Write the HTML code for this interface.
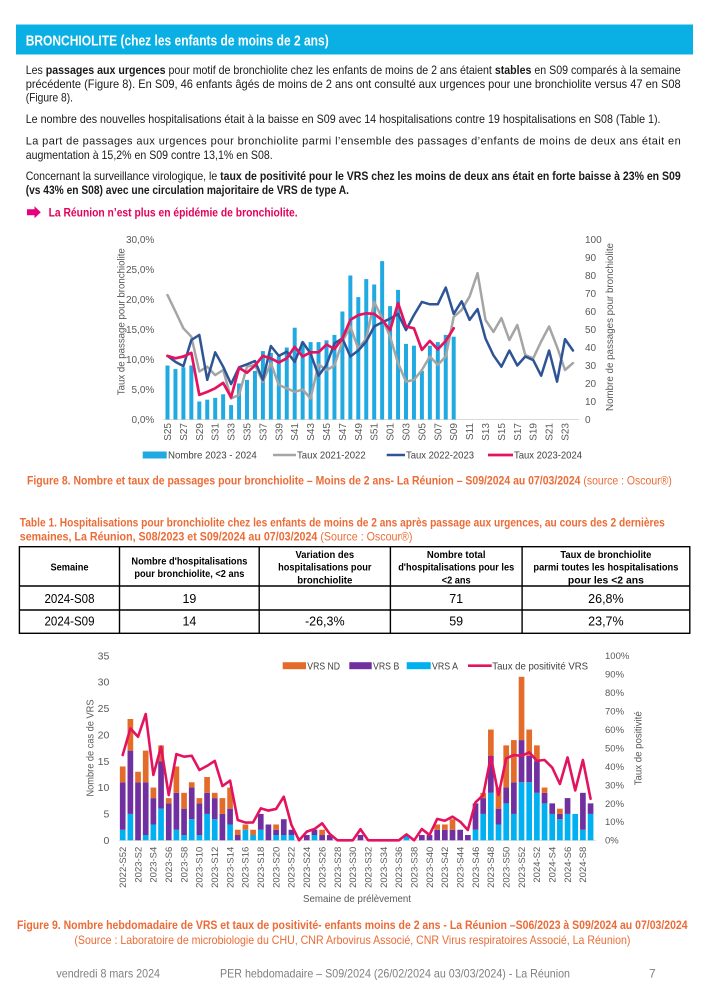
<!DOCTYPE html>
<html><head><meta charset="utf-8"><style>
html,body{margin:0;padding:0;background:#fff;}
svg{display:block;}
</style></head><body>
<svg width="707" height="1000" viewBox="0 0 707 1000" font-family="'Liberation Sans', sans-serif">
<rect x="0" y="0" width="707" height="1000" fill="#fff"/>
<!-- Header -->
<rect x="16" y="24.5" width="677" height="30" fill="#0AB0E4"/>
<text x="25.7" y="45.3" font-size="15" font-weight="bold" fill="#fff" textLength="303" lengthAdjust="spacingAndGlyphs">BRONCHIOLITE (chez les enfants de moins de 2 ans)</text>

<!-- Paragraphs -->
<g font-size="12" fill="#1a1a1a">
<text x="25.7" y="74" textLength="655" lengthAdjust="spacingAndGlyphs">Les <tspan font-weight="bold">passages aux urgences</tspan> pour motif de bronchiolite chez les enfants de moins de 2 ans étaient <tspan font-weight="bold">stables</tspan> en S09 comparés à la semaine</text>
<text x="25.7" y="88" textLength="655" lengthAdjust="spacingAndGlyphs">précédente (Figure 8). En S09, 46 enfants âgés de moins de 2 ans ont consulté aux urgences pour une bronchiolite versus 47 en S08</text>
<text x="25.7" y="101.3" textLength="47.3" lengthAdjust="spacingAndGlyphs">(Figure 8).</text>
<text x="25.7" y="123" textLength="634.8" lengthAdjust="spacingAndGlyphs">Le nombre des nouvelles hospitalisations était à la baisse en S09 avec 14 hospitalisations contre 19 hospitalisations en S08 (Table 1).</text>
<text x="25.7" y="144.7" font-size="11" textLength="655" lengthAdjust="spacing">La part de passages aux urgences pour bronchiolite parmi l’ensemble des passages d’enfants de moins de deux ans était en</text>
<text x="25.7" y="159" textLength="247" lengthAdjust="spacingAndGlyphs">augmentation à 15,2% en S09 contre 13,1% en S08.</text>
<text x="25.7" y="180" textLength="655" lengthAdjust="spacingAndGlyphs">Concernant la surveillance virologique, le <tspan font-weight="bold">taux de positivité pour le VRS chez les moins de deux ans était en forte baisse à 23% en S09</tspan></text>
<text x="25.7" y="194" font-weight="bold" textLength="323.3" lengthAdjust="spacingAndGlyphs">(vs 43% en S08) avec une circulation majoritaire de VRS de type A.</text>
</g>
<polygon points="27,209.3 34.5,209.3 34.5,206.3 40.8,212.3 34.5,218.3 34.5,215.3 27,215.3" fill="#E6007E"/>
<text x="48.6" y="216.3" font-size="12" font-weight="bold" fill="#E5005B" textLength="249" lengthAdjust="spacingAndGlyphs">La Réunion n’est plus en épidémie de bronchiolite.</text>

<!-- ===== Chart 1 ===== -->
<line x1="163.5" y1="419.5" x2="579" y2="419.5" stroke="#D9D9D9" stroke-width="1"/>
<g transform="translate(167.5,419.5) scale(7.95,-1.8)" fill="#21A9E1">
<rect x="-0.25" y="0" width="0.5" height="30"/><rect x="0.75" y="0" width="0.5" height="28"/><rect x="1.75" y="0" width="0.5" height="29"/><rect x="2.75" y="0" width="0.5" height="30"/><rect x="3.75" y="0" width="0.5" height="10"/><rect x="4.75" y="0" width="0.5" height="11"/><rect x="5.75" y="0" width="0.5" height="12"/><rect x="6.75" y="0" width="0.5" height="14"/><rect x="7.75" y="0" width="0.5" height="8"/><rect x="8.75" y="0" width="0.5" height="20"/><rect x="9.75" y="0" width="0.5" height="22"/><rect x="10.75" y="0" width="0.5" height="27"/><rect x="11.75" y="0" width="0.5" height="38"/><rect x="12.75" y="0" width="0.5" height="37"/><rect x="13.75" y="0" width="0.5" height="35"/><rect x="14.75" y="0" width="0.5" height="40"/><rect x="15.75" y="0" width="0.5" height="51"/><rect x="16.75" y="0" width="0.5" height="43"/><rect x="17.75" y="0" width="0.5" height="43"/><rect x="18.75" y="0" width="0.5" height="43"/><rect x="19.75" y="0" width="0.5" height="44"/><rect x="20.75" y="0" width="0.5" height="47"/><rect x="21.75" y="0" width="0.5" height="60"/><rect x="22.75" y="0" width="0.5" height="80"/><rect x="23.75" y="0" width="0.5" height="68"/><rect x="24.75" y="0" width="0.5" height="78"/><rect x="25.75" y="0" width="0.5" height="75"/><rect x="26.75" y="0" width="0.5" height="88"/><rect x="27.75" y="0" width="0.5" height="63"/><rect x="28.75" y="0" width="0.5" height="72"/><rect x="29.75" y="0" width="0.5" height="42"/><rect x="30.75" y="0" width="0.5" height="41"/><rect x="31.75" y="0" width="0.5" height="27"/><rect x="32.75" y="0" width="0.5" height="41"/><rect x="33.75" y="0" width="0.5" height="43"/><rect x="34.75" y="0" width="0.5" height="47"/><rect x="35.75" y="0" width="0.5" height="46"/>
</g>
<g transform="translate(167.5,419.5) scale(7.95,-6)" fill="none" stroke-linejoin="round" stroke-linecap="round">
<polyline vector-effect="non-scaling-stroke" stroke="#A5A5A5" stroke-width="2.5" points="0,20.75 1,18 2,15.2 3,13.8 4,8 5,8.8 6,7.4 7,8.25 8,3.5 9,4.1 10,8.8 11,9.1 12,6.3 13,9.4 14,5.75 15,5.2 16,4.6 17,5 18,3.5 19,9.2 20,8.2 21,9 22,13 23,15.5 24,11.8 25,13.5 26,19.6 27,16.9 28,13.8 29,9.4 30,6.3 31,6.6 32,8.25 33,10.5 34,9.1 35,10.5 36,17.1 37,18.25 38,20.5 39,24.4 40,16.6 41,14.6 42,16.9 43,13.25 44,15.75 45,10.75 46,10.2 47,13 48,15.5 49,12.1 50,8.25 51,9.4"/>
<polyline vector-effect="non-scaling-stroke" stroke="#2F5496" stroke-width="2.5" points="0,10.6 1,9.6 2,8.9 3,13.25 4,14.1 5,6.6 6,11.2 7,8.8 8,5.9 9,8.7 10,9.2 11,9.75 12,6.6 13,12.25 14,10.6 15,11.3 16,9.6 17,12.9 18,11 19,7.3 20,9.1 21,12.7 22,13.5 23,10.5 24,11.5 25,13 26,15.5 27,16.2 28,16.8 29,17.6 30,14.9 31,17.4 32,19.6 33,19.2 34,19.2 35,22 36,17.6 37,19.7 38,16.6 39,18.4 40,13.5 41,10.7 42,8.8 43,11.5 44,9 45,10.5 46,9.9 47,7.3 48,11.5 49,6.3 50,13.4 51,11.5"/>
<polyline vector-effect="non-scaling-stroke" stroke="#E4135F" stroke-width="2.7" points="0,10.6 1,10.2 2,10.5 3,11.1 4,4.1 5,4.6 6,5.2 7,6.1 8,3.7 9,8.6 10,7.8 11,9 12,10.6 13,10.2 14,9.5 15,10.2 16,12.1 17,10.5 18,11.2 19,11.2 20,12.5 21,11.75 22,13.5 23,16.6 24,17.4 25,17.7 26,17.6 27,16.6 28,14.9 29,19.4 30,15.5 31,15.2 32,11.6 33,13.1 34,11.7 35,13.1 36,15.2"/>
</g>
<g font-size="10" fill="#595959" text-anchor="end">
<text x="154.3" y="423">0,0%</text><text x="154.3" y="393">5,0%</text><text x="154.3" y="363">10,0%</text><text x="154.3" y="333">15,0%</text><text x="154.3" y="303">20,0%</text><text x="154.3" y="273">25,0%</text><text x="154.3" y="243">30,0%</text>
</g>
<g font-size="10" fill="#595959">
<text x="585" y="423">0</text><text x="585" y="405">10</text><text x="585" y="387">20</text><text x="585" y="369">30</text><text x="585" y="351">40</text><text x="585" y="333">50</text><text x="585" y="315">60</text><text x="585" y="297">70</text><text x="585" y="279">80</text><text x="585" y="261">90</text><text x="585" y="243">100</text>
</g>
<text transform="translate(124.4,321.7) rotate(-90)" text-anchor="middle" font-size="10.5" fill="#595959" textLength="147" lengthAdjust="spacingAndGlyphs">Taux de passage pour bronchiolite</text>
<text transform="translate(613.2,327) rotate(-90)" text-anchor="middle" font-size="10.5" fill="#595959" textLength="168" lengthAdjust="spacingAndGlyphs">Nombre de passages pour bronchiolite</text>
<g font-size="10" fill="#595959" text-anchor="end">
<text transform="translate(171,423) rotate(-90)">S25</text>
<text transform="translate(186.9,423) rotate(-90)">S27</text>
<text transform="translate(202.8,423) rotate(-90)">S29</text>
<text transform="translate(218.7,423) rotate(-90)">S31</text>
<text transform="translate(234.6,423) rotate(-90)">S33</text>
<text transform="translate(250.5,423) rotate(-90)">S35</text>
<text transform="translate(266.4,423) rotate(-90)">S37</text>
<text transform="translate(282.3,423) rotate(-90)">S39</text>
<text transform="translate(298.2,423) rotate(-90)">S41</text>
<text transform="translate(314.1,423) rotate(-90)">S43</text>
<text transform="translate(330,423) rotate(-90)">S45</text>
<text transform="translate(345.9,423) rotate(-90)">S47</text>
<text transform="translate(361.8,423) rotate(-90)">S49</text>
<text transform="translate(377.7,423) rotate(-90)">S51</text>
<text transform="translate(393.6,423) rotate(-90)">S01</text>
<text transform="translate(409.5,423) rotate(-90)">S03</text>
<text transform="translate(425.4,423) rotate(-90)">S05</text>
<text transform="translate(441.3,423) rotate(-90)">S07</text>
<text transform="translate(457.2,423) rotate(-90)">S09</text>
<text transform="translate(473.1,423) rotate(-90)">S11</text>
<text transform="translate(489,423) rotate(-90)">S13</text>
<text transform="translate(504.9,423) rotate(-90)">S15</text>
<text transform="translate(520.8,423) rotate(-90)">S17</text>
<text transform="translate(536.7,423) rotate(-90)">S19</text>
<text transform="translate(552.6,423) rotate(-90)">S21</text>
<text transform="translate(568.5,423) rotate(-90)">S23</text>
</g>
<!-- legend 1 -->
<g font-size="10.5" fill="#404040">
<rect x="142.7" y="451.5" width="24" height="7" fill="#21A9E1"/>
<text x="168" y="458.6" textLength="88.7" lengthAdjust="spacingAndGlyphs">Nombre 2023 - 2024</text>
<line x1="273" y1="455" x2="296" y2="455" stroke="#A5A5A5" stroke-width="2.5"/>
<text x="297" y="458.6" textLength="68.7" lengthAdjust="spacingAndGlyphs">Taux 2021-2022</text>
<line x1="386.7" y1="455" x2="405" y2="455" stroke="#2F5496" stroke-width="2.5"/>
<text x="406" y="458.6" textLength="68" lengthAdjust="spacingAndGlyphs">Taux 2022-2023</text>
<line x1="488" y1="455" x2="513" y2="455" stroke="#E4135F" stroke-width="2.7"/>
<text x="514" y="458.6" textLength="68" lengthAdjust="spacingAndGlyphs">Taux 2023-2024</text>
</g>
<text x="27" y="484.7" font-size="12" fill="#EC6B36" textLength="644.8" lengthAdjust="spacingAndGlyphs"><tspan font-weight="bold">Figure 8. Nombre et taux de passages pour bronchiolite – Moins de 2 ans- La Réunion – S09/2024 au 07/03/2024 </tspan>(source : Oscour®)</text>

<!-- ===== Table ===== -->
<text x="19.8" y="526.3" font-size="12" font-weight="bold" fill="#EC6B36" textLength="645" lengthAdjust="spacingAndGlyphs">Table 1. Hospitalisations pour bronchiolite chez les enfants de moins de 2 ans après passage aux urgences, au cours des 2 dernières</text>
<text x="19.8" y="540.7" font-size="12" fill="#EC6B36" textLength="392.7" lengthAdjust="spacingAndGlyphs"><tspan font-weight="bold">semaines, La Réunion, S08/2023 et S09/2024 au 07/03/2024 </tspan>(Source : Oscour®)</text>
<g stroke="#000" stroke-width="1.4" fill="none">
<rect x="19.4" y="546.7" width="670.4" height="86.6"/>
<line x1="19.4" y1="586" x2="689.8" y2="586"/>
<line x1="19.4" y1="610" x2="689.8" y2="610"/>
<line x1="119.5" y1="546.7" x2="119.5" y2="633.3"/>
<line x1="259.2" y1="546.7" x2="259.2" y2="633.3"/>
<line x1="390.4" y1="546.7" x2="390.4" y2="633.3"/>
<line x1="522.1" y1="546.7" x2="522.1" y2="633.3"/>
</g>
<g font-size="10.5" font-weight="bold" fill="#000" text-anchor="middle">
<text x="69.5" y="570.5" textLength="38" lengthAdjust="spacingAndGlyphs">Semaine</text>
<text x="189.4" y="564.7" textLength="116" lengthAdjust="spacingAndGlyphs">Nombre d'hospitalisations</text>
<text x="189.4" y="577" textLength="110" lengthAdjust="spacingAndGlyphs">pour bronchiolite, &lt;2 ans</text>
<text x="324.8" y="558" textLength="58.7" lengthAdjust="spacingAndGlyphs">Variation des</text>
<text x="324.8" y="570.7" textLength="93.3" lengthAdjust="spacingAndGlyphs">hospitalisations pour</text>
<text x="324.8" y="583.7" textLength="55" lengthAdjust="spacingAndGlyphs">bronchiolite</text>
<text x="456.2" y="558" textLength="58.6" lengthAdjust="spacingAndGlyphs">Nombre total</text>
<text x="456.2" y="570.7" textLength="116" lengthAdjust="spacingAndGlyphs">d'hospitalisations pour les</text>
<text x="456.2" y="583.7" textLength="29" lengthAdjust="spacingAndGlyphs">&lt;2 ans</text>
<text x="605.9" y="558" textLength="91" lengthAdjust="spacingAndGlyphs">Taux de bronchiolite</text>
<text x="605.9" y="570.7" textLength="145" lengthAdjust="spacingAndGlyphs">parmi toutes les hospitalisations</text>
<text x="605.9" y="583.7" textLength="76" lengthAdjust="spacingAndGlyphs">pour les &lt;2 ans</text>
</g>
<g font-size="12.5" fill="#000" text-anchor="middle">
<text x="69.5" y="602.8" textLength="50" lengthAdjust="spacingAndGlyphs">2024-S08</text>
<text x="189.4" y="602.8">19</text>
<text x="456.2" y="602.8">71</text>
<text x="605.9" y="602.8">26,8%</text>
<text x="69.5" y="625.5" textLength="50" lengthAdjust="spacingAndGlyphs">2024-S09</text>
<text x="189.4" y="625.5">14</text>
<text x="324.8" y="625.5">-26,3%</text>
<text x="456.2" y="625.5">59</text>
<text x="605.9" y="625.5">23,7%</text>
</g>

<!-- ===== Chart 2 ===== -->
<line x1="118.8" y1="840.3" x2="596" y2="840.3" stroke="#D9D9D9" stroke-width="1"/>
<g transform="translate(122.7,840.3) scale(7.67,-5.274)">
<g fill="#00B0F0">
<rect x="-0.37" y="0" width="0.74" height="2"/><rect x="0.63" y="0" width="0.74" height="5"/><rect x="2.63" y="0" width="0.74" height="1"/><rect x="3.63" y="0" width="0.74" height="3"/><rect x="4.63" y="0" width="0.74" height="6"/><rect x="6.63" y="0" width="0.74" height="2"/><rect x="7.63" y="0" width="0.74" height="1"/><rect x="8.63" y="0" width="0.74" height="4"/><rect x="9.63" y="0" width="0.74" height="1"/><rect x="10.63" y="0" width="0.74" height="5"/><rect x="11.63" y="0" width="0.74" height="4"/><rect x="13.63" y="0" width="0.74" height="3"/><rect x="15.63" y="0" width="0.74" height="2"/><rect x="16.63" y="0" width="0.74" height="1"/><rect x="17.63" y="0" width="0.74" height="2"/><rect x="19.63" y="0" width="0.74" height="1"/><rect x="20.63" y="0" width="0.74" height="1"/><rect x="21.63" y="0" width="0.74" height="1"/><rect x="24.63" y="0" width="0.74" height="1"/><rect x="36.63" y="0" width="0.74" height="1"/>
<rect x="45.63" y="0" width="0.74" height="2"/><rect x="46.63" y="0" width="0.74" height="5"/><rect x="47.63" y="0" width="0.74" height="9"/><rect x="48.63" y="0" width="0.74" height="3"/><rect x="49.63" y="0" width="0.74" height="7"/><rect x="50.63" y="0" width="0.74" height="5"/><rect x="51.63" y="0" width="0.74" height="11"/><rect x="52.63" y="0" width="0.74" height="11"/><rect x="53.63" y="0" width="0.74" height="9"/><rect x="54.63" y="0" width="0.74" height="7"/><rect x="55.63" y="0" width="0.74" height="5"/><rect x="56.63" y="0" width="0.74" height="4"/><rect x="57.63" y="0" width="0.74" height="5"/><rect x="58.63" y="0" width="0.74" height="5"/><rect x="59.63" y="0" width="0.74" height="2"/><rect x="60.63" y="0" width="0.74" height="5"/>
</g>
<g fill="#7030A0">
<rect x="-0.37" y="2" width="0.74" height="9"/><rect x="0.63" y="5" width="0.74" height="12"/><rect x="1.63" y="0" width="0.74" height="11"/><rect x="2.63" y="1" width="0.74" height="10"/><rect x="3.63" y="3" width="0.74" height="5"/><rect x="4.63" y="6" width="0.74" height="9"/><rect x="5.63" y="0" width="0.74" height="7"/><rect x="6.63" y="2" width="0.74" height="7"/><rect x="7.63" y="1" width="0.74" height="5"/><rect x="8.63" y="4" width="0.74" height="6"/><rect x="9.63" y="1" width="0.74" height="6"/><rect x="10.63" y="5" width="0.74" height="4"/><rect x="11.63" y="4" width="0.74" height="4"/><rect x="12.63" y="0" width="0.74" height="5"/><rect x="13.63" y="3" width="0.74" height="3"/><rect x="14.63" y="0" width="0.74" height="1"/><rect x="17.63" y="2" width="0.74" height="3"/><rect x="18.63" y="0" width="0.74" height="3"/><rect x="19.63" y="1" width="0.74" height="1"/><rect x="20.63" y="1" width="0.74" height="3"/><rect x="21.63" y="1" width="0.74" height="1"/><rect x="23.63" y="0" width="0.74" height="1"/><rect x="24.63" y="1" width="0.74" height="1"/><rect x="25.63" y="0" width="0.74" height="1"/><rect x="26.63" y="0" width="0.74" height="1"/><rect x="30.63" y="0" width="0.74" height="1"/>
<rect x="38.63" y="0" width="0.74" height="1"/><rect x="39.63" y="0" width="0.74" height="1"/><rect x="40.63" y="0" width="0.74" height="2"/><rect x="41.63" y="0" width="0.74" height="2"/><rect x="42.63" y="0" width="0.74" height="2"/><rect x="43.63" y="0" width="0.74" height="2"/><rect x="44.63" y="0" width="0.74" height="1"/><rect x="45.63" y="2" width="0.74" height="5"/><rect x="46.63" y="5" width="0.74" height="3"/><rect x="47.63" y="9" width="0.74" height="7"/><rect x="48.63" y="3" width="0.74" height="3"/><rect x="49.63" y="7" width="0.74" height="3"/><rect x="50.63" y="5" width="0.74" height="6"/><rect x="51.63" y="11" width="0.74" height="8"/><rect x="52.63" y="11" width="0.74" height="5"/><rect x="53.63" y="9" width="0.74" height="6"/><rect x="54.63" y="7" width="0.74" height="2"/><rect x="55.63" y="5" width="0.74" height="2"/><rect x="56.63" y="4" width="0.74" height="1"/><rect x="57.63" y="5" width="0.74" height="3"/><rect x="59.63" y="2" width="0.74" height="7"/><rect x="60.63" y="5" width="0.74" height="2"/>
</g>
<g fill="#E46C2B">
<rect x="-0.37" y="11" width="0.74" height="3"/><rect x="0.63" y="17" width="0.74" height="6"/><rect x="1.63" y="11" width="0.74" height="2"/><rect x="2.63" y="11" width="0.74" height="6"/><rect x="3.63" y="8" width="0.74" height="2"/><rect x="4.63" y="15" width="0.74" height="3"/><rect x="5.63" y="7" width="0.74" height="1"/><rect x="6.63" y="9" width="0.74" height="5"/><rect x="7.63" y="6" width="0.74" height="3"/><rect x="8.63" y="10" width="0.74" height="1"/><rect x="9.63" y="7" width="0.74" height="1"/><rect x="10.63" y="9" width="0.74" height="3"/><rect x="11.63" y="8" width="0.74" height="1"/><rect x="12.63" y="5" width="0.74" height="3"/><rect x="13.63" y="6" width="0.74" height="4"/><rect x="14.63" y="1" width="0.74" height="1"/><rect x="15.63" y="2" width="0.74" height="1"/><rect x="16.63" y="1" width="0.74" height="1"/><rect x="19.63" y="2" width="0.74" height="1"/><rect x="25.63" y="1" width="0.74" height="1"/>
<rect x="40.63" y="2" width="0.74" height="1"/><rect x="41.63" y="2" width="0.74" height="1"/><rect x="42.63" y="2" width="0.74" height="2"/><rect x="46.63" y="8" width="0.74" height="1"/><rect x="47.63" y="16" width="0.74" height="5"/><rect x="48.63" y="6" width="0.74" height="4"/><rect x="49.63" y="10" width="0.74" height="8"/><rect x="50.63" y="11" width="0.74" height="8"/><rect x="51.63" y="19" width="0.74" height="12"/><rect x="52.63" y="16" width="0.74" height="5"/><rect x="53.63" y="15" width="0.74" height="3"/><rect x="54.63" y="9" width="0.74" height="1"/><rect x="56.63" y="5" width="0.74" height="1"/>
</g>
</g>
<g transform="translate(122.7,840.3) scale(7.67,-1.846)" fill="none">
<polyline vector-effect="non-scaling-stroke" stroke="#E4135F" stroke-width="2.6" stroke-linejoin="round" stroke-linecap="round" points="0,46.2 1,60.6 2,56.1 3,68.4 4,35.4 5,50.7 6,24.5 7,46.7 8,45.3 9,45.8 10,38.1 11,40.3 12,43 13,29.4 14,32.3 15,11 16,9.6 17,9.7 18,17.3 19,16.1 20,17 21,23.6 22,8.3 23,0 24,4.7 25,6.1 26,9.2 27,3.4 28,0 29,0 30,0 31,6 32,0 33,0 34,0 35,0 36,0 37,3.2 38,0 39,6.1 40,2.9 41,11.6 42,10.6 43,12.8 44,10.1 45,5.6 46,20.6 47,24.5 48,45.3 49,24.5 50,44.4 51,46.2 52,45.7 53,47.7 54,43.1 55,43.5 56,39.4 57,30.5 58,44.9 59,27 60,43.5 61,22.5"/>
</g>
<g font-size="10.5" fill="#595959" text-anchor="end">
<text x="109.3" y="843.9">0</text><text x="109.3" y="817.5">5</text><text x="109.3" y="791.2">10</text><text x="109.3" y="764.8">15</text><text x="109.3" y="738.4">20</text><text x="109.3" y="712.1">25</text><text x="109.3" y="685.7">30</text><text x="109.3" y="659.3">35</text>
</g>
<g font-size="9.5" fill="#595959">
<text x="605" y="843.7">0%</text><text x="605" y="825.2">10%</text><text x="605" y="806.8">20%</text><text x="605" y="788.3">30%</text><text x="605" y="769.9">40%</text><text x="605" y="751.4">50%</text><text x="605" y="732.9">60%</text><text x="605" y="714.5">70%</text><text x="605" y="696">80%</text><text x="605" y="677.6">90%</text><text x="605" y="659.1">100%</text>
</g>
<text transform="translate(93.7,748) rotate(-90)" text-anchor="middle" font-size="10.5" fill="#595959" textLength="97" lengthAdjust="spacingAndGlyphs">Nombre de cas de VRS</text>
<text transform="translate(641.5,748.3) rotate(-90)" text-anchor="middle" font-size="10.5" fill="#595959" textLength="74" lengthAdjust="spacingAndGlyphs">Taux de positivité</text>
<g font-size="9.5" fill="#595959" text-anchor="end">
<text transform="translate(126,846.7) rotate(-90)">2022-S52</text>
<text transform="translate(141.3,846.7) rotate(-90)">2023-S2</text>
<text transform="translate(156.7,846.7) rotate(-90)">2023-S4</text>
<text transform="translate(172,846.7) rotate(-90)">2023-S6</text>
<text transform="translate(187.4,846.7) rotate(-90)">2023-S8</text>
<text transform="translate(202.7,846.7) rotate(-90)">2023-S10</text>
<text transform="translate(218,846.7) rotate(-90)">2023-S12</text>
<text transform="translate(233.4,846.7) rotate(-90)">2023-S14</text>
<text transform="translate(248.7,846.7) rotate(-90)">2023-S16</text>
<text transform="translate(264.1,846.7) rotate(-90)">2023-S18</text>
<text transform="translate(279.4,846.7) rotate(-90)">2023-S20</text>
<text transform="translate(294.7,846.7) rotate(-90)">2023-S22</text>
<text transform="translate(310.1,846.7) rotate(-90)">2023-S24</text>
<text transform="translate(325.4,846.7) rotate(-90)">2023-S26</text>
<text transform="translate(340.8,846.7) rotate(-90)">2023-S28</text>
<text transform="translate(356.1,846.7) rotate(-90)">2023-S30</text>
<text transform="translate(371.4,846.7) rotate(-90)">2023-S32</text>
<text transform="translate(386.8,846.7) rotate(-90)">2023-S34</text>
<text transform="translate(402.1,846.7) rotate(-90)">2023-S36</text>
<text transform="translate(417.5,846.7) rotate(-90)">2023-S38</text>
<text transform="translate(432.8,846.7) rotate(-90)">2023-S40</text>
<text transform="translate(448.1,846.7) rotate(-90)">2023-S42</text>
<text transform="translate(463.5,846.7) rotate(-90)">2023-S44</text>
<text transform="translate(478.8,846.7) rotate(-90)">2023-S46</text>
<text transform="translate(494.2,846.7) rotate(-90)">2023-S48</text>
<text transform="translate(509.5,846.7) rotate(-90)">2023-S50</text>
<text transform="translate(524.8,846.7) rotate(-90)">2023-S52</text>
<text transform="translate(540.2,846.7) rotate(-90)">2024-S2</text>
<text transform="translate(555.5,846.7) rotate(-90)">2024-S4</text>
<text transform="translate(570.9,846.7) rotate(-90)">2024-S6</text>
<text transform="translate(586.2,846.7) rotate(-90)">2024-S8</text>
</g>
<!-- legend 2 -->
<g font-size="10.5" fill="#404040">
<rect x="282.7" y="662.2" width="23.3" height="7" fill="#E46C2B"/>
<text x="307.3" y="669.3" textLength="32.7" lengthAdjust="spacingAndGlyphs">VRS ND</text>
<rect x="349.3" y="662.2" width="22.4" height="7" fill="#7030A0"/>
<text x="373" y="669.3" textLength="26.3" lengthAdjust="spacingAndGlyphs">VRS B</text>
<rect x="406.7" y="662.2" width="24" height="7" fill="#00B0F0"/>
<text x="432" y="669.3" textLength="26" lengthAdjust="spacingAndGlyphs">VRS A</text>
<line x1="468" y1="665.7" x2="491.7" y2="665.7" stroke="#E4135F" stroke-width="2.6"/>
<text x="492.3" y="669.3" textLength="95.7" lengthAdjust="spacingAndGlyphs">Taux de positivité VRS</text>
</g>
<text x="357" y="902" text-anchor="middle" font-size="10.5" fill="#595959" textLength="108" lengthAdjust="spacingAndGlyphs">Semaine de prélèvement</text>

<text x="17" y="929" font-size="12" font-weight="bold" fill="#EC6B36" textLength="670.6" lengthAdjust="spacingAndGlyphs">Figure 9. Nombre hebdomadaire de VRS et taux de positivité- enfants moins de 2 ans - La Réunion –S06/2023 à S09/2024 au 07/03/2024</text>
<text x="74.4" y="944" font-size="12" fill="#EC6B36" textLength="556" lengthAdjust="spacingAndGlyphs">(Source : Laboratoire de microbiologie du CHU, CNR Arbovirus Associé, CNR Virus respiratoires Associé, La Réunion)</text>

<!-- footer -->
<g font-size="12" fill="#7F7F7F">
<text x="56.4" y="977.5" textLength="103.6" lengthAdjust="spacingAndGlyphs">vendredi 8 mars 2024</text>
<text x="220" y="977.5" textLength="350" lengthAdjust="spacingAndGlyphs">PER hebdomadaire – S09/2024 (26/02/2024 au 03/03/2024) - La Réunion</text>
<text x="649" y="977.5">7</text>
</g>
</svg>
</body></html>
